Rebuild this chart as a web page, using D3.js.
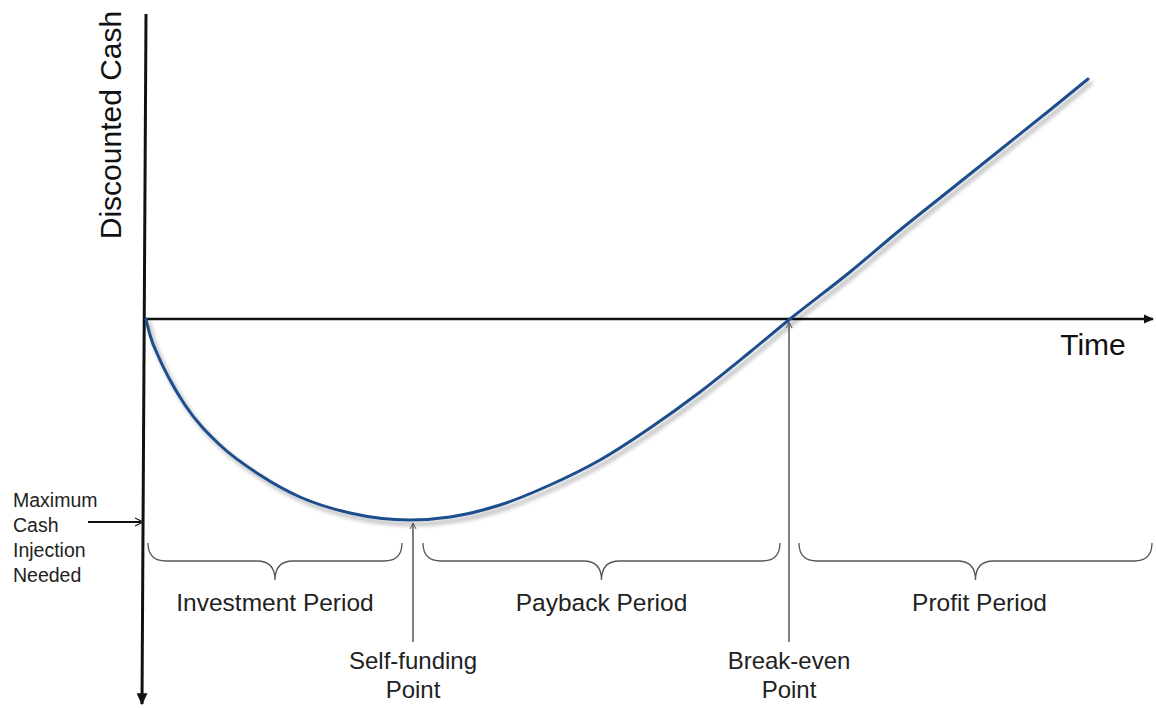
<!DOCTYPE html>
<html><head><meta charset="utf-8">
<script src="https://cdn.jsdelivr.net/npm/d3@7"></script>
<style>html,body{margin:0;padding:0;background:#fff;}svg{display:block;}</style>
</head><body>
<svg id="c" width="1156" height="708"></svg>
<script>
// ---- data ----
const timeValues = [0, 0.4, 1.4, 2.4, 3.9, 7.4, 11.4, 15.4, 20.4, 26.4, 30.4, 35.4, 40.4, 45.4, 50.4, 55.4, 60.4, 64.4, 70.4, 75.4, 80.4, 85.4, 90.4, 94.2];
const cashValues = [0, -1.6, -4.1, -6.1, -8.6, -12.6, -15.6, -17.8, -19.4, -20.1, -19.8, -18.6, -16.6, -14.1, -10.9, -7.3, -3.3, 0, 4.7, 8.9, 12.9, 16.9, 20.9, 24.0];
const periodLabels = ["Investment Period", "Payback Period", "Profit Period"];
const periodStarts = [0.2, 27.7, 65.3];
const periodEnds = [25.6, 63.4, 100.6];
const pointLines1 = ["Self-funding", "Break-even"];
const pointLines2 = ["Point", "Point"];
const pointTimes = [26.7, 64.3];
const pointValues = [-20.1, 0];
const axisLabelY = "Discounted Cash";
const axisLabelX = "Time";
const leftNote = ["Maximum", "Cash", "Injection", "Needed"];

const svg = d3.select("#c");
const x = d3.scaleLinear().domain([0, 100]).range([146, 1146]);
const y = d3.scaleLinear().domain([-40, 30]).range([719, 19]);
const font = "'Liberation Sans', Arial, sans-serif";

const defs = svg.append("defs");
const f = defs.append("filter").attr("id","sh").attr("x","-10%").attr("y","-10%").attr("width","120%").attr("height","120%");
f.append("feGaussianBlur").attr("in","SourceAlpha").attr("stdDeviation",2.2).attr("result","b");
f.append("feOffset").attr("in","b").attr("dx",3).attr("dy",4).attr("result","o");
f.append("feComponentTransfer").attr("in","o").attr("result","o2").append("feFuncA").attr("type","linear").attr("slope",0.35);
const m = f.append("feMerge"); m.append("feMergeNode").attr("in","o2"); m.append("feMergeNode").attr("in","SourceGraphic");

function arrowHead(id, color, filled){
  const mk = defs.append("marker").attr("id",id).attr("viewBox","0 0 10 10").attr("refX",9).attr("refY",5)
    .attr("markerWidth", filled?4:5).attr("markerHeight", filled?4:5).attr("markerUnits","strokeWidth").attr("orient","auto");
  if(filled) mk.append("path").attr("d","M0,0.5L10,5L0,9.5Z").attr("fill",color);
  else mk.append("path").attr("d","M1,1L9,5L1,9").attr("fill","none").attr("stroke",color).attr("stroke-width",1.3);
}
arrowHead("ah","#111",true);
arrowHead("ag","#555",false);
arrowHead("ak","#222",false);

// axes
svg.append("line").attr("x1",146).attr("y1",14).attr("x2",142).attr("y2",704)
  .attr("stroke","#111").attr("stroke-width",3).attr("marker-end","url(#ah)");
svg.append("line").attr("x1",144).attr("y1",y(0)).attr("x2",1153).attr("y2",y(0))
  .attr("stroke","#111").attr("stroke-width",2.6).attr("marker-end","url(#ah)");

// curve
const pts = timeValues.map((t,i)=>[t, cashValues[i]]);
const line = d3.line().x(d=>x(d[0])).y(d=>y(d[1])).curve(d3.curveMonotoneX);
svg.append("path").datum(pts).attr("d",line).attr("fill","none")
  .attr("stroke","#1f4e8c").attr("stroke-width",3).attr("stroke-linecap","round").attr("filter","url(#sh)");

// braces
const bTop = 543, bMid = 561, bTip = 580, r = 18;
periodLabels.forEach((lab,i)=>{
  const a = x(periodStarts[i]), b = x(periodEnds[i]), c = (a+b)/2;
  const d = `M${a},${bTop} Q${a},${bMid} ${a+r},${bMid} L${c-r},${bMid} Q${c},${bMid} ${c},${bTip} Q${c},${bMid} ${c+r},${bMid} L${b-r},${bMid} Q${b},${bMid} ${b},${bTop}`;
  svg.append("path").attr("d",d).attr("fill","none").attr("stroke","#555").attr("stroke-width",1.3);
  svg.append("text").attr("x",c + (i===2?4:0)).attr("y",611).attr("text-anchor","middle")
    .attr("font-family",font).attr("font-size",24.5).attr("fill","#222").text(lab);
});

// point arrows and labels
pointTimes.forEach((t,i)=>{
  const px = x(t);
  svg.append("line").attr("x1",px).attr("y1",642).attr("x2",px).attr("y2",y(pointValues[i])+3)
    .attr("stroke","#555").attr("stroke-width",1.5).attr("marker-end","url(#ag)");
  svg.append("text").attr("x",px).attr("y",669).attr("text-anchor","middle")
    .attr("font-family",font).attr("font-size",24).attr("fill","#222").text(pointLines1[i]);
  svg.append("text").attr("x",px).attr("y",698).attr("text-anchor","middle")
    .attr("font-family",font).attr("font-size",24).attr("fill","#222").text(pointLines2[i]);
});

// axis labels
svg.append("text").attr("transform","translate(121,125) rotate(-90)").attr("text-anchor","middle")
  .attr("font-family",font).attr("font-size",30).attr("fill","#111").text(axisLabelY);
svg.append("text").attr("x",1093).attr("y",355).attr("text-anchor","middle")
  .attr("font-family",font).attr("font-size",30).attr("fill","#111").text(axisLabelX);

// left note
leftNote.forEach((s,i)=>{
  svg.append("text").attr("x",13).attr("y",507+i*25).attr("font-family",font).attr("font-size",19.5)
    .attr("fill","#222").text(s);
});
svg.append("line").attr("x1",88).attr("y1",y(-20.1)+2).attr("x2",143).attr("y2",y(-20.1)+2)
  .attr("stroke","#111").attr("stroke-width",2).attr("marker-end","url(#ak)");
</script>
</body></html>
